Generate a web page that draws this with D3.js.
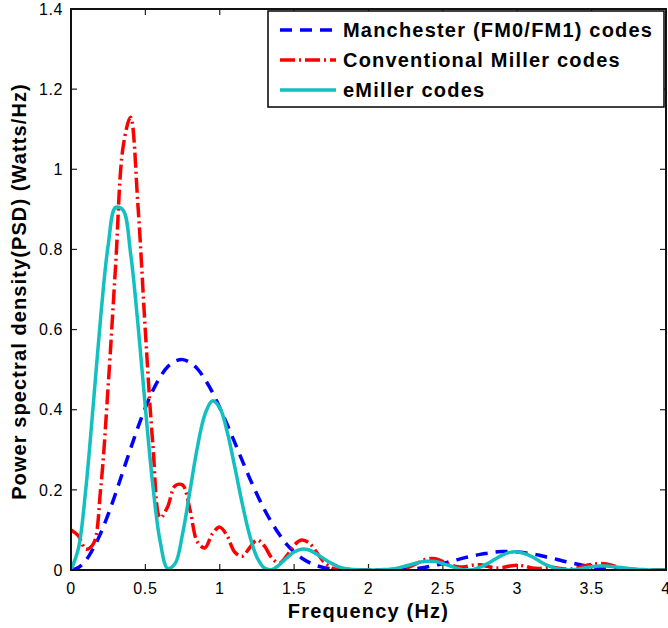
<!DOCTYPE html>
<html>
<head>
<meta charset="utf-8">
<script src="https://cdn.jsdelivr.net/npm/d3@7"></script>
<style>
  body { margin: 0; background: #fff; }
  text { font-family: "Liberation Sans", Arial, Helvetica, sans-serif; }
</style>
</head>
<body>
<div id="psd_chart"></div>
<script>
// frequency samples (Hz)
var freq = [0, 0.05, 0.1, 0.15, 0.2, 0.25, 0.3, 0.35, 0.4, 0.45, 0.5, 0.55, 0.6, 0.65, 0.7, 0.75, 0.8, 0.85, 0.9, 0.95,
    1, 1.05, 1.1, 1.15, 1.2, 1.25, 1.3, 1.35, 1.4, 1.45, 1.5, 1.55, 1.6, 1.65, 1.7, 1.75, 1.8, 1.85, 1.9, 1.95,
    2, 2.05, 2.1, 2.15, 2.2, 2.25, 2.3, 2.35, 2.4, 2.45, 2.5, 2.55, 2.6, 2.65, 2.7, 2.75, 2.8, 2.85, 2.9, 2.95,
    3, 3.05, 3.1, 3.15, 3.2, 3.25, 3.3, 3.35, 3.4, 3.45, 3.5, 3.55, 3.6, 3.65, 3.7, 3.75, 3.8, 3.85, 3.9, 3.95, 4];

// PSD values (Watts/Hz)
var manchester = [0, 0.006, 0.024, 0.054, 0.092, 0.139, 0.191, 0.247, 0.302, 0.356, 0.405, 0.448, 0.482, 0.507, 0.521, 0.525, 0.518, 0.502, 0.476, 0.444,
    0.405, 0.363, 0.319, 0.274, 0.230, 0.189, 0.151, 0.118, 0.089, 0.064, 0.045, 0.030, 0.019, 0.011, 0.006, 0.003, 0.001, 0, 0, 0,
    0, 0, 0, 0, 0.001, 0.002, 0.003, 0.005, 0.008, 0.012, 0.016, 0.021, 0.026, 0.031, 0.035, 0.039, 0.042, 0.045, 0.046, 0.046,
    0.045, 0.043, 0.040, 0.037, 0.032, 0.028, 0.023, 0.019, 0.015, 0.011, 0.008, 0.006, 0.004, 0.002, 0.001, 0.001, 0, 0, 0, 0, 0];

var conventionalMiller = [0.100, 0.085, 0.052, 0.065, 0.205, 0.460, 0.760, 1.055, 1.130, 0.910, 0.595, 0.315, 0.130, 0.158, 0.210, 0.212, 0.150, 0.070, 0.055, 0.090,
    0.107, 0.085, 0.045, 0.034, 0.055, 0.075, 0.060, 0.030, 0.017, 0.035, 0.062, 0.075, 0.068, 0.045, 0.020, 0.006, 0.001, 0, 0, 0,
    0, 0, 0, 0.001, 0.002, 0.005, 0.012, 0.021, 0.028, 0.028, 0.021, 0.013, 0.008, 0.008, 0.012, 0.013, 0.009, 0.005, 0.006, 0.010,
    0.012, 0.010, 0.005, 0.004, 0.007, 0.006, 0.003, 0.002, 0.005, 0.010, 0.014, 0.016, 0.015, 0.010, 0.005, 0.002, 0.001, 0, 0, 0, 0];

var eMiller = [0, 0.054, 0.204, 0.414, 0.633, 0.811, 0.905, 0.898, 0.792, 0.614, 0.405, 0.212, 0.070, 0.004, 0.016, 0.090, 0.198, 0.307, 0.388, 0.422,
    0.405, 0.345, 0.259, 0.168, 0.088, 0.032, 0.005, 0.001, 0.013, 0.030, 0.045, 0.052, 0.050, 0.040, 0.028, 0.017, 0.008, 0.003, 0.001, 0,
    0, 0, 0.001, 0.002, 0.005, 0.010, 0.015, 0.020, 0.022, 0.021, 0.016, 0.010, 0.004, 0, 0.001, 0.007, 0.016, 0.027, 0.037, 0.044,
    0.045, 0.041, 0.033, 0.022, 0.012, 0.005, 0.001, 0, 0.002, 0.005, 0.008, 0.010, 0.010, 0.008, 0.006, 0.004, 0.002, 0.001, 0, 0, 0];

var seriesNames = ["Manchester (FM0/FM1) codes", "Conventional Miller codes", "eMiller codes"];
var xTicks = [0, 0.5, 1, 1.5, 2, 2.5, 3, 3.5, 4];
var yTicks = [0, 0.2, 0.4, 0.6, 0.8, 1, 1.2, 1.4];

function drawPSD() {
    // set the dimensions and margins of the graph
    var margin = { top: 9, right: 2, bottom: 58, left: 71 },
        width = 668 - margin.left - margin.right,
        height = 628 - margin.top - margin.bottom;

    var svg = d3.select("#psd_chart")
        .append("svg")
        .attr("width", width + margin.left + margin.right)
        .attr("height", height + margin.top + margin.bottom)
        .append("g")
        .attr("transform", "translate(" + margin.left + "," + margin.top + ")");

    var x = d3.scaleLinear().domain([0, 4]).range([0, width]);
    var y = d3.scaleLinear().domain([0, 1.4]).range([height, 0]);

    // matlab style box with inward ticks on every side
    var tickLen = 6;
    svg.append("g").selectAll("line").data(xTicks).enter().append("line")
        .attr("x1", function (d) { return x(d); }).attr("x2", function (d) { return x(d); })
        .attr("y1", height).attr("y2", height - tickLen)
        .attr("stroke", "#222").attr("stroke-width", 1.2);
    svg.append("g").selectAll("line").data(xTicks).enter().append("line")
        .attr("x1", function (d) { return x(d); }).attr("x2", function (d) { return x(d); })
        .attr("y1", 0).attr("y2", tickLen)
        .attr("stroke", "#222").attr("stroke-width", 1.2);
    svg.append("g").selectAll("line").data(yTicks).enter().append("line")
        .attr("x1", 0).attr("x2", tickLen)
        .attr("y1", function (d) { return y(d); }).attr("y2", function (d) { return y(d); })
        .attr("stroke", "#222").attr("stroke-width", 1.2);
    svg.append("g").selectAll("line").data(yTicks).enter().append("line")
        .attr("x1", width).attr("x2", width - tickLen)
        .attr("y1", function (d) { return y(d); }).attr("y2", function (d) { return y(d); })
        .attr("stroke", "#222").attr("stroke-width", 1.2);

    // tick labels
    svg.append("g").selectAll("text").data(xTicks).enter().append("text")
        .attr("x", function (d) { return x(d); })
        .attr("y", height + 24)
        .attr("text-anchor", "middle")
        .attr("font-size", "16px")
        .attr("letter-spacing", "0.6px")
        .text(function (d) { return d; });
    svg.append("g").selectAll("text").data(yTicks).enter().append("text")
        .attr("x", -8)
        .attr("y", function (d) { return y(d); })
        .attr("dy", "0.36em")
        .attr("text-anchor", "end")
        .attr("font-size", "16px")
        .attr("letter-spacing", "0.6px")
        .text(function (d) { return d; });

    // clip the curves to the plot area
    svg.append("clipPath").attr("id", "plotClip")
        .append("rect").attr("x", 0).attr("y", 0).attr("width", width).attr("height", height);

    var line = d3.line()
        .x(function (d) { return x(d[0]); })
        .y(function (d) { return y(d[1]); })
        .curve(d3.curveCatmullRom.alpha(0.5));

    var styles = [
        { values: manchester, color: "#0000ff", dash: "12,8" },
        { values: conventionalMiller, color: "#ff0000", dash: "15,4,2,4" },
        { values: eMiller, color: "#14bfbf", dash: null }
    ];

    var curves = svg.append("g").attr("clip-path", "url(#plotClip)");
    styles.forEach(function (s) {
        var pts = freq.map(function (f, i) { return [f, s.values[i]]; });
        curves.append("path")
            .datum(pts)
            .attr("d", line)
            .attr("fill", "none")
            .attr("stroke", s.color)
            .attr("stroke-width", 3.5)
            .attr("stroke-dasharray", s.dash);
    });

    // box
    svg.append("rect")
        .attr("x", 0).attr("y", 0)
        .attr("width", width).attr("height", height)
        .attr("fill", "none")
        .attr("stroke", "#111")
        .attr("stroke-width", 2);

    // legend
    var legend = svg.append("g").attr("transform", "translate(" + (268 - margin.left) + "," + (11 - margin.top) + ")");
    legend.append("rect")
        .attr("width", 396).attr("height", 96)
        .attr("fill", "#fff")
        .attr("stroke", "#000")
        .attr("stroke-width", 1.5);

    var rowY = [19, 49, 79];
    styles.forEach(function (s, i) {
        legend.append("line")
            .attr("x1", 12).attr("x2", 68)
            .attr("y1", rowY[i]).attr("y2", rowY[i])
            .attr("stroke", s.color)
            .attr("stroke-width", 3.5)
            .attr("stroke-dasharray", s.dash);
        legend.append("text")
            .attr("x", 75)
            .attr("y", rowY[i])
            .attr("dy", "0.36em")
            .attr("font-size", "20px")
            .attr("font-weight", "bold")
            .attr("letter-spacing", "1.2px")
            .text(seriesNames[i]);
    });

    // axis titles
    svg.append("text")
        .attr("x", width / 2)
        .attr("y", height + 48)
        .attr("text-anchor", "middle")
        .attr("font-size", "20px")
        .attr("font-weight", "bold")
        .attr("letter-spacing", "1.2px")
        .text("Frequency (Hz)");

    svg.append("text")
        .attr("transform", "translate(" + (-margin.left + 26) + "," + (height / 2 + 2) + ") rotate(-90)")
        .attr("text-anchor", "middle")
        .attr("font-size", "20px")
        .attr("font-weight", "bold")
        .attr("letter-spacing", "1.1px")
        .text("Power spectral density(PSD) (Watts/Hz)");
}

drawPSD();
</script>
</body>
</html>
